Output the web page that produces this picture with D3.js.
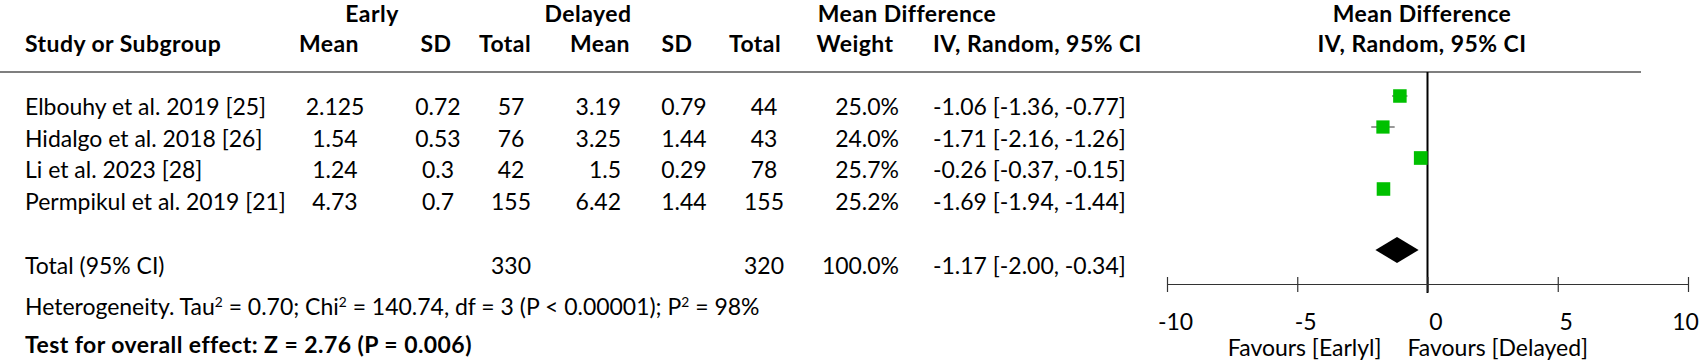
<!DOCTYPE html>
<html>
<head>
<meta charset="utf-8">
<script src="https://cdn.jsdelivr.net/npm/d3@7"></script>
<style>
  html, body { margin: 0; padding: 0; background: #fff; }
  svg text { font-family: Lato, "Open Sans", sans-serif; fill: #000; }
</style>
</head>
<body>
<svg id="chart" width="1701" height="360"></svg>
<script>
// ---------- data ----------
const studies = ["Elbouhy et al. 2019 [25]", "Hidalgo et al. 2018 [26]", "Li et al. 2023 [28]", "Permpikul et al. 2019 [21]"];
const earlyMean = [2.125, 1.54, 1.24, 4.73];
const earlySD = [0.72, 0.53, 0.3, 0.7];
const earlyTotal = [57, 76, 42, 155];
const delayedMean = [3.19, 3.25, 1.5, 6.42];
const delayedSD = [0.79, 1.44, 0.29, 1.44];
const delayedTotal = [44, 43, 78, 155];
const weights = [25.0, 24.0, 25.7, 25.2];
const meanDiff = [-1.06, -1.71, -0.26, -1.69];
const ciLow = [-1.36, -2.16, -0.37, -1.94];
const ciHigh = [-0.77, -1.26, -0.15, -1.44];
const pooled = [-1.17];
const pooledLow = [-2.00];
const pooledHigh = [-0.34];
const totalEarly = [330];
const totalDelayed = [320];
const totalWeight = [100.0];
const axisTicks = [-10, -5, 0, 5, 10];
const favourLabels = ["Favours [Earlyl]", "Favours [Delayed]"];

// ---------- layout ----------
const svg = d3.select("#chart");
const x = d3.scaleLinear().domain([-10, 10]).range([1167, 1688]);
const rowY = d3.scaleLinear().domain([0, 3]).range([107, 202]);   // text rows
const plotY = d3.scaleLinear().domain([0, 3]).range([96, 189]);   // forest marks
const totalY = 266, diamondY = 250, axisY = 284, lineY = 72;

const loc = d3.formatLocale({decimal: ".", thousands: ",", grouping: [3], currency: ["", ""], minus: "-"});

// fit font size so a study label matches its width in the reference
let fs = 22;
const probe = svg.append("text").style("font-size", fs + "px").text(studies[3]);
const w = probe.node().getComputedTextLength();
probe.remove();
fs = fs * 261 / w;

const fmt1 = loc.format(".1f");
const fmt2 = loc.format(".2f");
const ciText = (m, l, h) => `${fmt2(m)} [${fmt2(l)}, ${fmt2(h)}]`;

function txt(xp, yp, s, anchor, bold) {
  return svg.append("text").attr("x", xp).attr("y", yp)
    .attr("dy", "0.35em")
    .attr("text-anchor", anchor || "start")
    .style("font-size", fs + "px")
    .style("font-weight", bold ? "bold" : "normal")
    .style("letter-spacing", bold ? "0.45px" : "0px")
    .text(s);
}

// headers
txt(372, 14, "Early", "middle", true);
txt(588, 14, "Delayed", "middle", true);
txt(907, 14, "Mean Difference", "middle", true);
txt(1422, 14, "Mean Difference", "middle", true);
const h2 = 44;
txt(25, h2, "Study or Subgroup", "start", true);
txt(329, h2, "Mean", "middle", true);
txt(436, h2, "SD", "middle", true);
txt(505, h2, "Total", "middle", true);
txt(600, h2, "Mean", "middle", true);
txt(677, h2, "SD", "middle", true);
txt(755, h2, "Total", "middle", true);
txt(855, h2, "Weight", "middle", true);
txt(933, h2, "IV, Random, 95% CI", "start", true);
txt(1422, h2, "IV, Random, 95% CI", "middle", true);

svg.append("line").attr("x1", 0).attr("x2", 1641).attr("y1", lineY).attr("y2", lineY)
  .attr("stroke", "#555").attr("stroke-width", 1.5);

// study rows
studies.forEach((s, i) => {
  const y = rowY(i);
  txt(25, y, s, "start");
  txt(335, y, String(earlyMean[i]), "middle");
  txt(438, y, String(earlySD[i]), "middle");
  txt(511, y, String(earlyTotal[i]), "middle");
  txt(621, y, String(delayedMean[i]), "end");
  txt(684, y, String(delayedSD[i]), "middle");
  txt(764, y, String(delayedTotal[i]), "middle");
  txt(899, y, fmt1(weights[i]) + "%", "end");
  txt(933, y, ciText(meanDiff[i], ciLow[i], ciHigh[i]), "start");
});

// total row
txt(25, totalY, "Total (95% CI)", "start");
txt(511, totalY, String(totalEarly[0]), "middle");
txt(764, totalY, String(totalDelayed[0]), "middle");
txt(899, totalY, fmt1(totalWeight[0]) + "%", "end");
txt(933, totalY, ciText(pooled[0], pooledLow[0], pooledHigh[0]), "start");

// heterogeneity
const het = svg.append("text").attr("x", 25).attr("y", 307).attr("dy", "0.35em")
  .style("font-size", fs + "px");
het.append("tspan").text("Heterogeneity. Tau");
het.append("tspan").attr("baseline-shift", "super").style("font-size", (fs * 0.6) + "px").text("2");
het.append("tspan").text(" = 0.70; Chi");
het.append("tspan").attr("baseline-shift", "super").style("font-size", (fs * 0.6) + "px").text("2");
het.append("tspan").text(" = 140.74, df = 3 (P < 0.00001); P");
het.append("tspan").attr("baseline-shift", "super").style("font-size", (fs * 0.6) + "px").text("2");
het.append("tspan").text(" = 98%");
txt(25, 345, "Test for overall effect: Z = 2.76 (P = 0.006)", "start", true);

// ---------- forest plot ----------
// zero line
svg.append("line").attr("x1", x(0)).attr("x2", x(0)).attr("y1", lineY).attr("y2", axisY + 9)
  .attr("stroke", "#000").attr("stroke-width", 2);

// CI lines
svg.selectAll(".ci").data(meanDiff).enter().append("line")
  .attr("x1", (d, i) => x(ciLow[i])).attr("x2", (d, i) => x(ciHigh[i]))
  .attr("y1", (d, i) => plotY(i)).attr("y2", (d, i) => plotY(i))
  .attr("stroke", "#777").attr("stroke-width", 1.5);

// squares (area ~ weight)
const sz = d3.scaleSqrt().domain([0, 25]).range([0, 13.5]);
svg.selectAll(".sq").data(meanDiff).enter().append("rect")
  .attr("x", (d, i) => x(d) - sz(weights[i]) / 2)
  .attr("y", (d, i) => plotY(i) - sz(weights[i]) / 2)
  .attr("width", (d, i) => sz(weights[i]))
  .attr("height", (d, i) => sz(weights[i]))
  .attr("fill", "#00c000");

// diamond
const dPath = d3.path();
dPath.moveTo(x(pooledLow[0]), diamondY);
dPath.lineTo(x(pooled[0]), diamondY - 13);
dPath.lineTo(x(pooledHigh[0]), diamondY);
dPath.lineTo(x(pooled[0]), diamondY + 13);
dPath.closePath();
svg.append("path").attr("d", dPath.toString()).attr("fill", "#000");

// axis
const axis = d3.axisBottom(x).tickValues(axisTicks).tickSize(0).tickFormat(loc.format("d"));
const gAxis = svg.append("g").attr("transform", `translate(0,${axisY})`).call(axis);
gAxis.select(".domain").attr("stroke", "#333").attr("stroke-width", 1.2);
gAxis.selectAll(".tick line").attr("y1", -7).attr("y2", 8).attr("stroke", "#333").attr("stroke-width", 1.2);
gAxis.selectAll(".tick text").attr("y", 38).attr("dy", "0.35em")
  .attr("dx", d => d === 10 ? -3 : 8)
  .attr("fill", "#000")
  .style("font-size", fs + "px").style("font-family", "Lato, sans-serif");

// favours labels
txt(x(0) - 46, 348, favourLabels[0], "end");
txt(x(0) - 20, 348, favourLabels[1], "start");
</script>
</body>
</html>
